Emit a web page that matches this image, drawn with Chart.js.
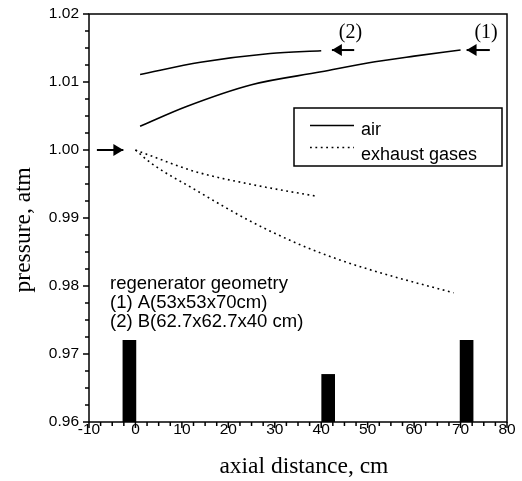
<!DOCTYPE html>
<html>
<head>
<meta charset="utf-8">
<script src="https://cdn.jsdelivr.net/npm/chart.js@4.4.1/dist/chart.umd.min.js"></script>
<style>
html, body { margin: 0; padding: 0; background: #fff; }
#wrap { width: 522px; height: 481px; }
</style>
</head>
<body>
<div id="wrap"><canvas id="graficaPresion" width="522" height="481"></canvas></div>
<script>
// axial distance (cm) / pressure (atm)
const aireX1 = [1, 11, 25, 40, 50, 60, 70];
const aireP1 = [1.0035, 1.0064, 1.0096, 1.0115, 1.0128, 1.0138, 1.0147];
const aireX2 = [1, 14, 29, 40];
const aireP2 = [1.0111, 1.0129, 1.0142, 1.0146];
const gasesX1 = [0, 3.5, 13, 24, 35, 45, 55, 68.5];
const gasesP1 = [1.0, 0.9980, 0.9941, 0.9898, 0.9862, 0.9836, 0.9815, 0.9790];
const gasesX2 = [0, 3.5, 13, 26, 39];
const gasesP2 = [1.0, 0.9991, 0.9968, 0.9948, 0.9932];

// regenerator marks (black bars)
const regenX = [-1.3, 41.5, 71.3];
const regenTop = [0.972, 0.967, 0.972];
const regenBase = 0.96;

const xTicks = [-10, 0, 10, 20, 30, 40, 50, 60, 70, 80];
const yTicks = [0.96, 0.97, 0.98, 0.99, 1.00, 1.01, 1.02];

const legendLabels = ['air', 'exhaust gases'];
const notaLineas = ['regenerator geometry', '(1) A(53x53x70cm)', '(2) B(62.7x62.7x40 cm)'];

const SANS = '"Liberation Sans", Arial, sans-serif';
const SERIF = '"Liberation Serif", "Times New Roman", serif';
const DOTS = [1.8, 3.6];

function puntos(xs, ys) {
    return xs.map((x, i) => ({ x: x, y: ys[i] }));
}

function linea(xs, ys, dash) {
    return {
        type: 'scatter',
        data: puntos(xs, ys),
        showLine: true,
        borderColor: '#000',
        borderWidth: 1.6,
        borderDash: dash,
        pointRadius: 0,
        cubicInterpolationMode: 'monotone',
        fill: false
    };
}

// frame, minor/major ticks, arrows, labels, legend
const extrasPlugin = {
    id: 'extras',
    afterDatasetsDraw(chart) {
        const { ctx, chartArea: a, scales: { x, y } } = chart;
        ctx.save();
        ctx.strokeStyle = '#000';
        ctx.fillStyle = '#000';
        ctx.lineWidth = 1.5;
        ctx.strokeRect(a.left, a.top, a.right - a.left, a.bottom - a.top);

        ctx.beginPath();
        for (let i = 0; i <= 36; i++) {
            const v = -10 + i * 2.5;
            const px = x.getPixelForValue(v);
            const len = i % 4 === 0 ? 6 : 4;
            ctx.moveTo(px, a.bottom);
            ctx.lineTo(px, a.bottom + len);
        }
        for (let i = 0; i <= 24; i++) {
            const v = 0.96 + i * 0.0025;
            const py = y.getPixelForValue(v);
            const len = i % 4 === 0 ? 6 : 4;
            ctx.moveTo(a.left, py);
            ctx.lineTo(a.left - len, py);
        }
        ctx.stroke();

        // arrows
        const flechas = [
            { x0: -8.3, x1: -2.6, y: 1.0, head: 'end' },
            { x0: 42.3, x1: 47.1, y: 1.0147, head: 'start' },
            { x0: 71.3, x1: 76.3, y: 1.0147, head: 'start' }
        ];
        flechas.forEach(f => {
            const p0 = x.getPixelForValue(f.x0);
            const p1 = x.getPixelForValue(f.x1);
            const py = y.getPixelForValue(f.y);
            ctx.lineWidth = 2;
            ctx.beginPath();
            ctx.moveTo(p0, py);
            ctx.lineTo(p1, py);
            ctx.stroke();
            ctx.beginPath();
            if (f.head === 'end') {
                ctx.moveTo(p1, py);
                ctx.lineTo(p1 - 10, py - 6);
                ctx.lineTo(p1 - 10, py + 6);
            } else {
                ctx.moveTo(p0, py);
                ctx.lineTo(p0 + 10, py - 6);
                ctx.lineTo(p0 + 10, py + 6);
            }
            ctx.closePath();
            ctx.fill();
        });

        ctx.font = '20px ' + SERIF;
        ctx.textAlign = 'center';
        ctx.textBaseline = 'middle';
        ctx.fillText('(2)', x.getPixelForValue(46.3), y.getPixelForValue(1.0172));
        ctx.fillText('(1)', x.getPixelForValue(75.5), y.getPixelForValue(1.0172));

        // geometry note
        ctx.font = '18.5px ' + SANS;
        ctx.textAlign = 'left';
        ctx.textBaseline = 'alphabetic';
        const notaY = [0.97956, 0.97676, 0.97397];
        notaLineas.forEach((t, i) => {
            ctx.fillText(t, x.getPixelForValue(-5.48), y.getPixelForValue(notaY[i]));
        });

        // legend box
        const bx = a.right - 213, by = a.top + 94, bw = 208, bh = 58;
        ctx.lineWidth = 1.5;
        ctx.strokeRect(bx, by, bw, bh);
        const muestras = [[], DOTS];
        const lineaY = [by + 17.5, by + 39.5];
        const textoY = [by + 27, by + 52];
        legendLabels.forEach((lab, i) => {
            ctx.lineWidth = 1.6;
            ctx.setLineDash(muestras[i]);
            ctx.beginPath();
            ctx.moveTo(bx + 16, lineaY[i]);
            ctx.lineTo(bx + 60, lineaY[i]);
            ctx.stroke();
            ctx.setLineDash([]);
            ctx.font = '18px ' + SANS;
            ctx.fillText(lab, bx + 67, textoY[i]);
        });
        ctx.restore();
    }
};

new Chart(document.getElementById('graficaPresion'), {
    type: 'scatter',
    data: {
        datasets: [
            linea(aireX1, aireP1, []),
            linea(aireX2, aireP2, []),
            linea(gasesX1, gasesP1, DOTS),
            linea(gasesX2, gasesP2, DOTS),
            {
                type: 'bar',
                data: regenX.map((x, i) => ({ x: x, y: [regenBase, regenTop[i]] })),
                backgroundColor: '#000',
                borderWidth: 0,
                barThickness: 13
            }
        ]
    },
    options: {
        responsive: false,
        devicePixelRatio: 1,
        animation: false,
        layout: { padding: { left: 0, top: 14, right: 15, bottom: 0 } },
        plugins: { legend: { display: false }, tooltip: { enabled: false } },
        scales: {
            x: {
                type: 'linear',
                min: -10,
                max: 80,
                offset: false,
                grid: { display: false, drawTicks: false, offset: false },
                border: { display: false },
                afterBuildTicks: s => { s.ticks = xTicks.map(v => ({ value: v })); },
                afterFit: s => { s.height = 59; s.paddingLeft = 0; s.paddingRight = 0; },
                ticks: {
                    color: '#000',
                    padding: -2,
                    maxRotation: 0,
                    font: { family: SANS, size: 15.5 },
                    callback: v => String(v)
                },
                title: {
                    display: true,
                    text: '  axial distance, cm',
                    color: '#000',
                    font: { family: SERIF, size: 23.5 },
                    padding: { top: 0, bottom: 0 }
                }
            },
            y: {
                type: 'linear',
                min: 0.96,
                max: 1.02,
                grid: { display: false, drawTicks: false },
                border: { display: false },
                afterBuildTicks: s => { s.ticks = yTicks.map(v => ({ value: v })); },
                afterFit: s => { s.width = 89; s.paddingTop = 0; s.paddingBottom = 0; },
                ticks: {
                    color: '#000',
                    padding: 10,
                    font: { family: SANS, size: 15.5 },
                    callback: v => Number(v).toFixed(2)
                },
                title: {
                    display: true,
                    text: 'pressure, atm    ',
                    color: '#000',
                    font: { family: SERIF, size: 23.5 },
                    padding: { top: 10, bottom: 0 }
                }
            }
        }
    },
    plugins: [extrasPlugin]
});
</script>
</body>
</html>
